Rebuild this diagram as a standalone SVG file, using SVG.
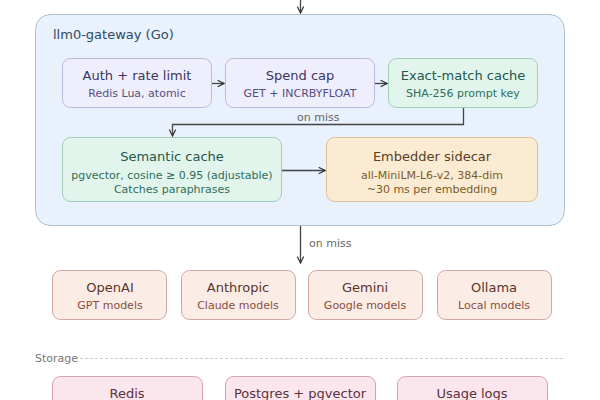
<svg xmlns="http://www.w3.org/2000/svg" width="600" height="400" viewBox="0 0 600 400">
<style>
text{font-family:"DejaVu Sans","Liberation Sans",sans-serif;text-anchor:middle}
.t{font-size:13px}
.s{font-size:11px}
.lbl{font-size:11px;fill:#666;text-anchor:start}
.edge{fill:none;stroke:#444;stroke-width:1.3}
.pur rect{fill:#efeefd;stroke:#bcb8da}
.pur .t{fill:#3a355f}.pur .s{fill:#544e80}
.grn rect{fill:#e2f5ed;stroke:#9fcdb8}
.grn .t{fill:#22574a}.grn .s{fill:#2e6d5a}
.org rect{fill:#fcebd3;stroke:#dcbf92}
.org .t{fill:#56401f}.org .s{fill:#7a5a2a}
.prv rect{fill:#fbece5;stroke:#cdaaa0}
.prv .t{fill:#5a3428}.prv .s{fill:#8a4e3e}
.sto rect{fill:#fce6ed;stroke:#cfa3b0}
.sto .t{fill:#5a3040}
</style>
<defs>
<marker id="a" viewBox="0 0 10 10" refX="9" refY="5" markerWidth="8" markerHeight="8" orient="auto" markerUnits="userSpaceOnUse">
<path d="M1,1 L9,5 L1,9" fill="none" stroke="#333" stroke-width="1.5"/>
</marker>
</defs>
<g id="gateway">
<rect x="35.500" y="14.500" width="529" height="211" rx="15" fill="#e8f1fc" stroke="#a9c1cf"/>
<text x="53" y="39" style="font-size:13px;fill:#2d4a66;text-anchor:start">llm0-gateway (Go)</text>
</g>
<g id="auth" class="pur">
<rect x="62.500" y="58.500" width="149" height="49" rx="8"/>
<text class="t" x="137" y="80">Auth + rate limit</text>
<text class="s" x="137" y="97">Redis Lua, atomic</text>
</g>
<g id="spend" class="pur">
<rect x="225.500" y="58.500" width="149" height="49" rx="8"/>
<text class="t" x="300" y="80">Spend cap</text>
<text class="s" x="300" y="97">GET + INCRBYFLOAT</text>
</g>
<g id="exact" class="grn">
<rect x="388.500" y="58.500" width="149" height="49" rx="8"/>
<text class="t" x="463" y="80">Exact-match cache</text>
<text class="s" x="463" y="97">SHA-256 prompt key</text>
</g>
<g id="semantic" class="grn">
<rect x="62.500" y="137.500" width="219" height="64" rx="8"/>
<text class="t" x="172" y="161">Semantic cache</text>
<text class="s" x="172" y="179">pgvector, cosine ≥ 0.95 (adjustable)</text>
<text class="s" x="172" y="193">Catches paraphrases</text>
</g>
<g id="embedder" class="org">
<rect x="326.500" y="137.500" width="211" height="64" rx="8"/>
<text class="t" x="432" y="161">Embedder sidecar</text>
<text class="s" x="432" y="179">all-MiniLM-L6-v2, 384-dim</text>
<text class="s" x="432" y="193">~30 ms per embedding</text>
</g>
<g id="openai" class="prv">
<rect x="52.500" y="270.500" width="114" height="49" rx="8"/>
<text class="t" x="110" y="292">OpenAI</text>
<text class="s" x="110" y="309">GPT models</text>
</g>
<g id="anthropic" class="prv">
<rect x="181.500" y="270.500" width="114" height="49" rx="8"/>
<text class="t" x="238" y="292">Anthropic</text>
<text class="s" x="238" y="309">Claude models</text>
</g>
<g id="gemini" class="prv">
<rect x="308.500" y="270.500" width="114" height="49" rx="8"/>
<text class="t" x="365" y="292">Gemini</text>
<text class="s" x="365" y="309">Google models</text>
</g>
<g id="ollama" class="prv">
<rect x="437.500" y="270.500" width="114" height="49" rx="8"/>
<text class="t" x="494" y="292">Ollama</text>
<text class="s" x="494" y="309">Local models</text>
</g>
<g id="storage">
<text x="35" y="362" style="font-size:11px;fill:#777;text-anchor:start">Storage</text>
<line x1="80" y1="358.500" x2="564" y2="358.500" stroke="#ccc" stroke-dasharray="3,2"/>
</g>
<g id="redis" class="sto">
<rect x="52.500" y="376.500" width="150" height="40" rx="8"/>
<text class="t" x="127" y="398">Redis</text>
</g>
<g id="postgres" class="sto">
<rect x="225.500" y="376.500" width="150" height="40" rx="8"/>
<text class="t" x="300" y="398">Postgres + pgvector</text>
</g>
<g id="usage" class="sto">
<rect x="397.500" y="376.500" width="150" height="40" rx="8"/>
<text class="t" x="472" y="398">Usage logs</text>
</g>
<g id="connectors">
<line class="edge" x1="300.500" y1="0" x2="300.500" y2="13" marker-end="url(#a)"/>
<line class="edge" x1="212" y1="83.500" x2="224" y2="83.500" marker-end="url(#a)"/>
<line class="edge" x1="375" y1="83.500" x2="387" y2="83.500" marker-end="url(#a)"/>
<path class="edge" d="M463.500,108 V124.500 H172.500 V136" marker-end="url(#a)"/>
<text class="lbl" x="297" y="121">on miss</text>
<line class="edge" x1="282" y1="170.500" x2="325" y2="170.500" marker-end="url(#a)"/>
<line class="edge" x1="300.500" y1="226" x2="300.500" y2="263" marker-end="url(#a)"/>
<text class="lbl" x="309" y="247">on miss</text>
</g>
</svg>
